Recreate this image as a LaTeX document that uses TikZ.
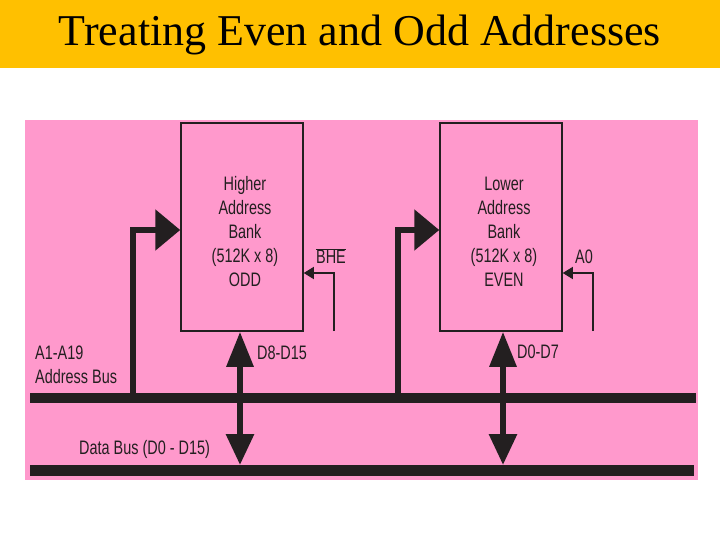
\documentclass[tikz,border=0pt]{standalone}
\usepackage{fontspec}
\setmainfont{Liberation Serif}
\newfontfamily\cond[FakeStretch=0.74]{Liberation Sans}
\usetikzlibrary{arrows.meta}
\definecolor{titlebar}{HTML}{FFC000}
\definecolor{panel}{HTML}{FF99CC}
\definecolor{ink}{HTML}{231F20}
\begin{document}
\begin{tikzpicture}[x=1pt,y=-1pt,
 lbl/.style={font=\cond\fontsize{19.5}{24}\selectfont, text=ink, inner sep=0pt},
 bank/.style={draw=ink, line width=1.5pt, minimum width=122pt, minimum height=208pt, inner sep=0pt},
 bus/.style={draw=ink, line cap=butt},
 addr/.style={line width=5.5pt, draw=ink, -{Triangle[length=25pt,width=40pt]}},
 data/.style={line width=6pt, draw=ink, {Triangle[length=35pt,width=26pt]}-{Triangle[length=31pt,width=27pt]}},
 ctl/.style={line width=1.3pt, draw=ink, -{Triangle[length=10pt,width=12pt]}}]
\useasboundingbox (0,0) rectangle (720,540);
\fill[white] (0,0) rectangle (720,540);
\fill[titlebar] (0,0) rectangle (720,68);
\node[font=\fontsize{44}{48}\selectfont, inner sep=0pt] (title) at (360,35) {Treating Even and Odd Addresses};
\fill[panel] (25,120) rectangle (698,480);
% banks
\node[bank] (odd) at (242,227) {};
\node[bank] (even) at (501,227) {};
\node[lbl, align=center] (oddtxt) at (245,232) {Higher\\Address\\Bank\\(512K x 8)\\ODD};
\node[lbl, align=center] (eventxt) at (504,232) {Lower\\Address\\Bank\\(512K x 8)\\EVEN};
% buses
\coordinate (ab1) at (30,398);
\coordinate (ab2) at (696,398);
\coordinate (db1) at (30,470);
\coordinate (db2) at (694,470);
\draw[bus, line width=10.5pt] (ab1) -- (ab2);
\draw[bus, line width=11pt] (db1) -- (db2);
% address connections
\coordinate (oa) at (133,398);
\coordinate (ea) at (398,398);
\draw[addr] (oa) |- ([yshift=-3pt]odd.west);
\draw[addr] (ea) |- ([yshift=-3pt]even.west);
% data connections
\coordinate (od) at (240,465);
\coordinate (ed) at (503,465);
\draw[data] (odd.south -| od) -- (od);
\draw[data] (even.south -| ed) -- (ed);
% control lines
\coordinate (bhe0) at (334,331);
\coordinate (a00) at (593,331);
\draw[ctl] (bhe0) |- ([yshift=-46pt]odd.east);
\draw[ctl] (a00) |- ([yshift=-46pt]even.east);
% labels
\node[lbl] (bhe) at (331,256) {$\overline{\mbox{BHE}}$};
\node[lbl] (a0) at (584,257) {A0};
\node[lbl, anchor=west] (d815) at (257,353) {D8-D15};
\node[lbl, anchor=west] (d07) at (517,352) {D0-D7};
\node[lbl, anchor=west] (a119) at (35,353) {A1-A19};
\node[lbl, anchor=west] (abus) at (35,377) {Address Bus};
\node[lbl, anchor=west] (dbus) at (79,449) {Data Bus (D0 - D15)};
\end{tikzpicture}
\end{document}
